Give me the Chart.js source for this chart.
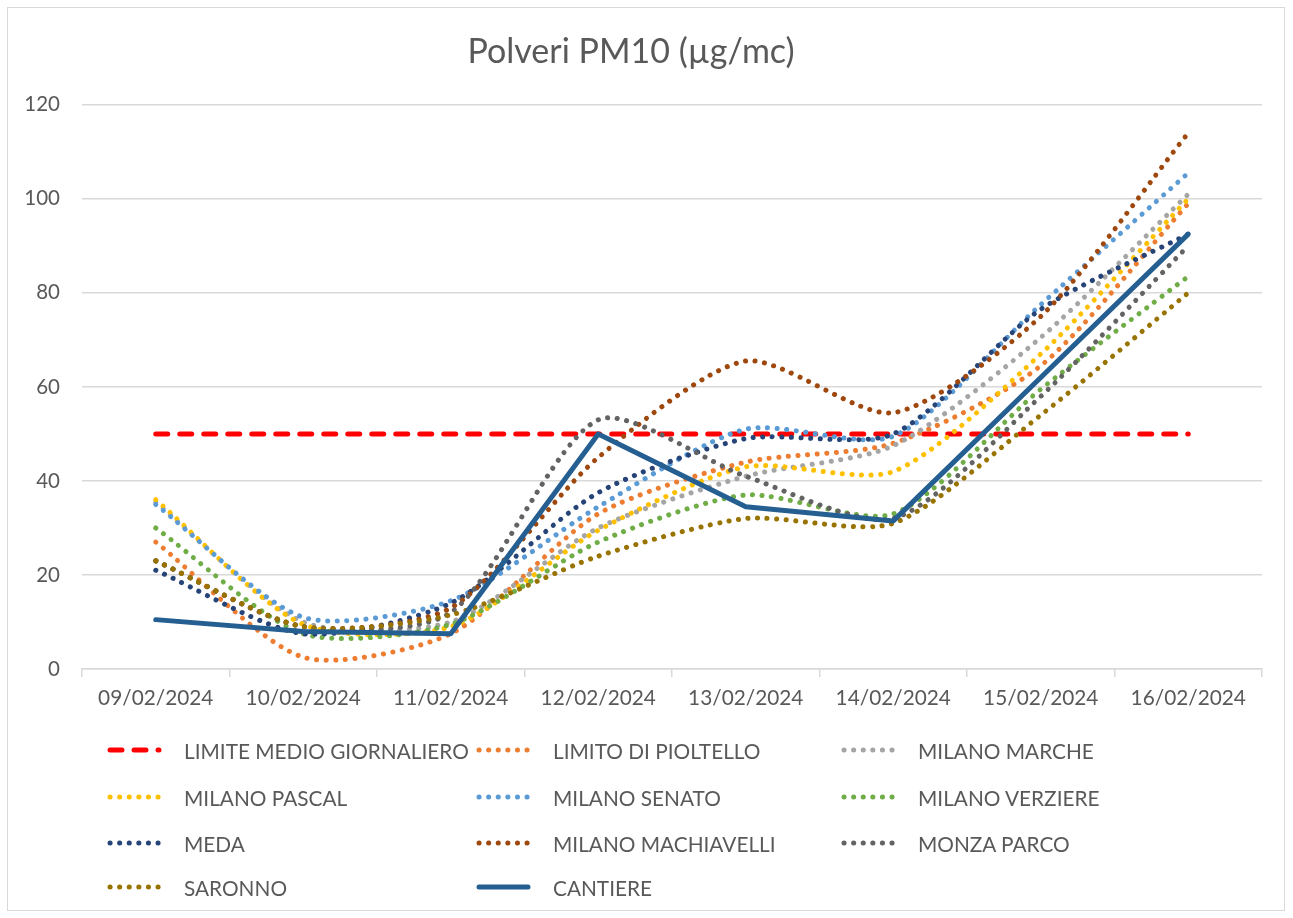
<!DOCTYPE html>
<html>
<head>
<meta charset="utf-8">
<script src="https://cdn.jsdelivr.net/npm/chart.js@4.4.1/dist/chart.umd.min.js"></script>
<style>
    body { margin: 0; background: #fff; }
    #wrap { position: relative; width: 1293px; height: 918px; }
    #frame { position: absolute; left: 7px; top: 7px; width: 1278px; height: 904px; border: 1px solid #d9d9d9; box-sizing: border-box; pointer-events: none; }
    #legend { position: absolute; left: 0; top: 0; font-family: Lato, sans-serif; font-size: 20.8px; color: #595959; }
    .leg-item { position: absolute; display: flex; align-items: center; height: 24px; white-space: nowrap; }
    .leg-item svg { margin-right: 22px; }
</style>
</head>
<body>
<div id="wrap">
    <canvas id="pmChart" width="1293" height="918"></canvas>
    <div id="frame"></div>
    <div id="legend"></div>
</div>
<script>
const dates = ['09/02/2024', '10/02/2024', '11/02/2024', '12/02/2024', '13/02/2024', '14/02/2024', '15/02/2024', '16/02/2024'];

const limiteMedio = [50, 50, 50, 50, 50, 50, 50, 50];
const pioltello = [27, 2.5, 7.5, 33, 44, 48, 64.5, 99];
const milanoMarche = [35.5, 10, 10, 30, 41, 47.5, 70.5, 101];
const milanoPascal = [36, 9.5, 9, 29.5, 43, 42, 67, 100];
const milanoSenato = [35, 11, 14.5, 34.5, 51, 49.5, 77.5, 105.5];
const milanoVerziere = [30, 7.5, 9.5, 27, 37, 33, 59.5, 83.5];
const meda = [21, 7.5, 14, 37.5, 49, 50, 76.5, 92.5];
const milanoMachiavelli = [23, 9, 13, 45, 65.5, 54.5, 75, 114];
const monzaParco = [23, 9, 12, 53, 41, 32, 58, 90];
const saronno = [23, 9, 11.5, 24, 32, 31, 54, 80];
const cantiere = [10.5, 8, 7.5, 50, 34.5, 31.5, 62, 92.5];

const yTicks = [0, 20, 40, 60, 80, 100, 120];

function dotted(label, data, color) {
    return {
        label: label, data: data, borderColor: color, backgroundColor: color,
        borderWidth: 5, borderDash: [0.1, 9.5], borderCapStyle: 'round',
        tension: 0.25, pointRadius: 0, fill: false
    };
}

const datasets = [
    {
        label: 'LIMITE MEDIO GIORNALIERO', data: limiteMedio, borderColor: '#ff0000', backgroundColor: '#ff0000',
        borderWidth: 5, borderDash: [12, 12], borderCapStyle: 'round', pointRadius: 0, tension: 0, fill: false
    },
    dotted('LIMITO DI PIOLTELLO', pioltello, '#ed7d31'),
    dotted('MILANO MARCHE', milanoMarche, '#a5a5a5'),
    dotted('MILANO PASCAL', milanoPascal, '#ffc000'),
    dotted('MILANO SENATO', milanoSenato, '#5b9bd5'),
    dotted('MILANO VERZIERE', milanoVerziere, '#70ad47'),
    dotted('MEDA', meda, '#264478'),
    dotted('MILANO MACHIAVELLI', milanoMachiavelli, '#9e480e'),
    dotted('MONZA PARCO', monzaParco, '#636363'),
    dotted('SARONNO', saronno, '#997300'),
    {
        label: 'CANTIERE', data: cantiere, borderColor: '#255e91', backgroundColor: '#255e91',
        borderWidth: 5, pointRadius: 0, tension: 0, fill: false, borderCapStyle: 'round', borderJoinStyle: 'round'
    }
];
// excel draws later series on top; chart.js draws lowest order last
datasets.forEach((d, i) => { d.order = datasets.length - 1 - i; });

const textColor = '#595959';
const gridColor = '#d9d9d9';

const chart = new Chart(document.getElementById('pmChart'), {
    type: 'line',
    data: { labels: dates, datasets: datasets },
    options: {
        responsive: false,
        animation: false,
        layout: { padding: { top: 0, left: 0, right: 31, bottom: 189 } },
        plugins: {
            legend: { display: false },
            tooltip: { enabled: false },
            title: {
                display: true,
                text: 'Polveri PM10 (µg/mc)',
                color: textColor,
                font: { family: 'Lato', size: 34, weight: 'normal' },
                padding: { top: 32, bottom: 32 }
            }
        },
        scales: {
            x: {
                offset: true,
                grid: { drawOnChartArea: false, drawTicks: true, tickLength: 8, color: gridColor, lineWidth: 1.5, offset: true },
                border: { display: true, color: gridColor, width: 1.5 },
                ticks: { color: textColor, font: { family: 'Lato', size: 20.8 }, padding: 9, maxRotation: 0, autoSkip: false },
                afterFit: (scale) => { scale.height = 60; }
            },
            y: {
                min: 0, max: 120,
                afterBuildTicks: (scale) => { scale.ticks = yTicks.map(v => ({ value: v })); },
                grid: { color: gridColor, lineWidth: 1.5, drawTicks: false },
                border: { display: false },
                ticks: { color: textColor, font: { family: 'Lato', size: 20.5 }, padding: 22 },
                afterFit: (scale) => { scale.width = 82; }
            }
        }
    }
});

// legend laid out in three columns like the excel one
function renderLegend() {
    const legendDiv = document.getElementById('legend');
    legendDiv.innerHTML = '';
    const colX = [107, 476, 841];
    const rowY = [750, 797, 843, 887];
    chart.data.datasets.forEach((ds, i) => {
        const col = i % 3;
        const row = Math.floor(i / 3);
        const item = document.createElement('div');
        item.className = 'leg-item';
        item.style.left = colX[col] + 'px';
        item.style.top = (rowY[row] - 12) + 'px';
        const dash = ds.borderDash ? `stroke-dasharray="${ds.borderDash.join(' ')}"` : '';
        item.innerHTML = `<svg width="55" height="12"><line x1="3" y1="6" x2="52" y2="6" stroke="${ds.borderColor}" stroke-width="${ds.borderWidth}" stroke-linecap="round" ${dash}/></svg><span>${ds.label}</span>`;
        legendDiv.appendChild(item);
    });
}
renderLegend();
</script>
</body>
</html>
